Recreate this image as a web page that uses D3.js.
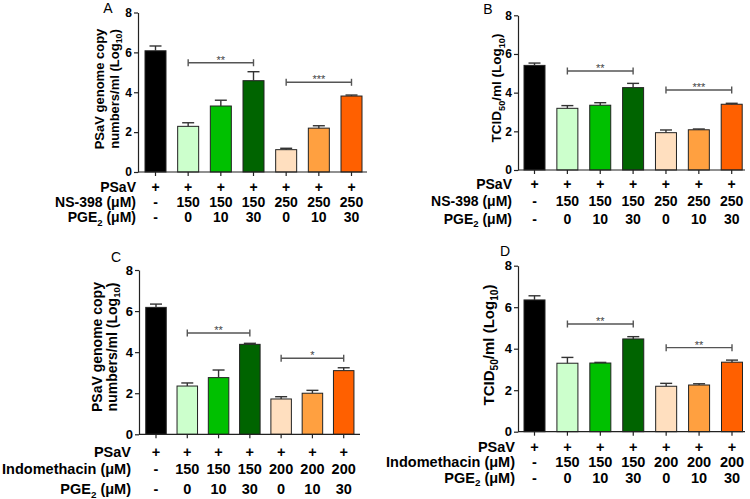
<!DOCTYPE html>
<html>
<head>
<meta charset="utf-8">
<script src="https://cdn.jsdelivr.net/npm/d3@7/dist/d3.min.js"></script>
<style>
  html, body { margin: 0; padding: 0; background: #fff; }
  svg { display: block; font-family: Arial, "Liberation Sans", Helvetica, sans-serif; }
</style>
</head>
<body>
<svg id="chart" width="750" height="499"></svg>
<script>
// ---------------- DATA ----------------
const psavRow   = ["+", "+", "+", "+", "+", "+", "+"];
const ns398Row  = ["-", "150", "150", "150", "250", "250", "250"];
const indoRow   = ["-", "150", "150", "150", "200", "200", "200"];
const pgeRow    = ["-", "0", "10", "30", "0", "10", "30"];
const barColors = ["#000000", "#ccffcc", "#00c000", "#006400", "#ffdfbf", "#ffa040", "#ff6000"];
const yTicks    = [0, 2, 4, 6, 8];

const aMeans  = [6.08, 2.29, 3.31, 4.58, 1.12, 2.20, 3.81];
const aErrors = [0.24, 0.18, 0.29, 0.45, 0.07, 0.12, 0.05];
const aSig    = [{ from: 1, to: 3, level: 5.48, label: "**" }, { from: 4, to: 6, level: 4.50, label: "***" }];

const bMeans  = [5.41, 3.19, 3.35, 4.26, 1.93, 2.08, 3.40];
const bErrors = [0.12, 0.14, 0.13, 0.22, 0.14, 0.04, 0.05];
const bSig    = [{ from: 1, to: 3, level: 5.12, label: "**" }, { from: 4, to: 6, level: 4.14, label: "***" }];

const cMeans  = [6.18, 2.35, 2.76, 4.38, 1.72, 2.00, 3.10];
const cErrors = [0.16, 0.15, 0.37, 0.05, 0.11, 0.14, 0.14];
const cSig    = [{ from: 1, to: 3, level: 4.93, label: "**" }, { from: 4, to: 6, level: 3.70, label: "*" }];

const dMeans  = [6.35, 3.30, 3.31, 4.47, 2.19, 2.25, 3.35];
const dErrors = [0.20, 0.28, 0.03, 0.11, 0.14, 0.06, 0.10];
const dSig    = [{ from: 1, to: 3, level: 5.19, label: "**" }, { from: 4, to: 6, level: 4.05, label: "**" }];

// ---------------- LAYOUT ----------------
const panels = [
  { letter: "A", lx: 108, ly: 13, means: aMeans, errors: aErrors, sig: aSig, drug: "NS-398", drugRow: ns398Row,
    axisX: 138, axisEnd: 367, y0: 172, yTop: 12.5, first: 155.5, last: 351.5, bw: 21,
    rowY: [186.5, 202, 217], labelRight: 136, fsTick: 12, fsLab: 14, fsTitle: 13, fsLetter: 14,
    title: [["PSaV genome copy"], ["numbers/ml (Log", "10", ")"]], titleX: [99, 114], titleY: 89 },
  { letter: "B", lx: 488, ly: 14, means: bMeans, errors: bErrors, sig: bSig, drug: "NS-398", drugRow: ns398Row,
    axisX: 518, axisEnd: 745, y0: 170, yTop: 15.3, first: 534.5, last: 731.7, bw: 21,
    rowY: [184, 201, 218.5], labelRight: 512, fsTick: 12, fsLab: 14, fsTitle: 13.5, fsLetter: 14,
    title: [["TCID", "50", "/ml (Log", "10", ")"]], titleX: [496.5], titleY: 88 },
  { letter: "C", lx: 116, ly: 262, means: cMeans, errors: cErrors, sig: cSig, drug: "Indomethacin", drugRow: indoRow,
    axisX: 139, axisEnd: 360, y0: 434.3, yTop: 270, first: 156, last: 343.7, bw: 20.5,
    rowY: [452, 469, 489], labelRight: 131, fsTick: 13, fsLab: 14.5, fsTitle: 14, fsLetter: 14,
    title: [["PSaV genome copy"], ["numbers/ml (Log", "10", ")"]], titleX: [97, 112], titleY: 347 },
  { letter: "D", lx: 505, ly: 256, means: dMeans, errors: dErrors, sig: dSig, drug: "Indomethacin", drugRow: indoRow,
    axisX: 518, axisEnd: 745, y0: 431.7, yTop: 265.7, first: 534.5, last: 732, bw: 21,
    rowY: [446.7, 462, 477.5], labelRight: 515, fsTick: 13, fsLab: 14.5, fsTitle: 15, fsLetter: 14,
    title: [["TCID", "50", "/ml (Log", "10", ")"]], titleX: [489], titleY: 345 }
];

const svg = d3.select("#chart");

function addRichText(sel, parts, fs) {
  // parts alternate: normal text, subscript, normal text, ...
  parts.forEach((p, i) => {
    const sub = i % 2 === 1;
    sel.append("tspan")
      .attr("font-size", sub ? fs * 0.68 : fs)
      .attr("dy", sub ? fs * 0.25 : (i > 0 ? -fs * 0.25 : null))
      .text(p);
  });
}

function drawPanel(cfg) {
  const g = svg.append("g");
  const n = cfg.means.length;
  const step = (cfg.last - cfg.first) / (n - 1);
  const pad = 1 - cfg.bw / step;
  const x = d3.scaleBand().domain(d3.range(n))
    .range([cfg.first - step / 2, cfg.last + step / 2])
    .paddingInner(pad).paddingOuter(pad / 2);
  const y = d3.scaleLinear().domain([0, 8]).range([cfg.y0, cfg.yTop]);
  const cx = i => x(i) + x.bandwidth() / 2;

  // bars
  g.selectAll("rect.bar").data(cfg.means).join("rect")
    .attr("class", "bar")
    .attr("x", (d, i) => x(i))
    .attr("y", d => y(d))
    .attr("width", x.bandwidth())
    .attr("height", d => cfg.y0 - y(d))
    .attr("fill", (d, i) => barColors[i])
    .attr("stroke", "#222")
    .attr("stroke-width", 1);

  // error bars (upper only)
  const eb = g.selectAll("g.err").data(cfg.means).join("g").attr("class", "err")
    .attr("stroke", "#333").attr("stroke-width", 1.4);
  eb.append("line")
    .attr("x1", (d, i) => cx(i)).attr("x2", (d, i) => cx(i))
    .attr("y1", d => y(d)).attr("y2", (d, i) => y(d + cfg.errors[i]));
  eb.append("line")
    .attr("x1", (d, i) => cx(i) - 6).attr("x2", (d, i) => cx(i) + 6)
    .attr("y1", (d, i) => y(d + cfg.errors[i])).attr("y2", (d, i) => y(d + cfg.errors[i]));

  // y axis
  const ya = g.append("g").attr("transform", `translate(${cfg.axisX},0)`)
    .call(d3.axisLeft(y).tickValues(yTicks).tickSize(4).tickSizeOuter(0).tickPadding(2).tickFormat(d3.format("d")));
  ya.select(".domain").attr("stroke", "#222").attr("stroke-width", 1.2);
  ya.selectAll(".tick line").attr("stroke", "#222").attr("stroke-width", 1.2);
  ya.selectAll(".tick text").attr("font-size", cfg.fsTick).attr("font-weight", "bold")
    .attr("font-family", "Arial, 'Liberation Sans', sans-serif").attr("fill", "#000");

  // x axis
  g.append("line").attr("x1", cfg.axisX).attr("x2", cfg.axisEnd)
    .attr("y1", cfg.y0).attr("y2", cfg.y0).attr("stroke", "#222").attr("stroke-width", 1.2);
  g.selectAll("line.xt").data(d3.range(n)).join("line").attr("class", "xt")
    .attr("x1", cx).attr("x2", cx).attr("y1", cfg.y0).attr("y2", cfg.y0 + 4)
    .attr("stroke", "#222").attr("stroke-width", 1.2);

  // significance brackets
  cfg.sig.forEach(s => {
    const sy = y(s.level);
    const bg = g.append("g").attr("stroke", "#555").attr("stroke-width", 1.4);
    bg.append("line").attr("x1", cx(s.from)).attr("x2", cx(s.to)).attr("y1", sy).attr("y2", sy);
    bg.append("line").attr("x1", cx(s.from)).attr("x2", cx(s.from)).attr("y1", sy - 3.5).attr("y2", sy + 3.5);
    bg.append("line").attr("x1", cx(s.to)).attr("x2", cx(s.to)).attr("y1", sy - 3.5).attr("y2", sy + 3.5);
    g.append("text").attr("x", (cx(s.from) + cx(s.to)) / 2).attr("y", sy + 1)
      .attr("text-anchor", "middle").attr("font-size", 11).attr("fill", "#444").text(s.label);
  });

  // condition rows
  const rows = [
    { parts: ["PSaV"], vals: psavRow },
    { parts: [cfg.drug + " (μM)"], vals: cfg.drugRow },
    { parts: ["PGE", "2", " (μM)"], vals: pgeRow }
  ];
  rows.forEach((r, ri) => {
    const ry = cfg.rowY[ri] + cfg.fsLab * 0.36;
    const t = g.append("text").attr("x", cfg.labelRight).attr("y", ry)
      .attr("text-anchor", "end").attr("font-weight", "bold").attr("font-size", cfg.fsLab);
    addRichText(t, r.parts, cfg.fsLab);
    g.selectAll(null).data(r.vals).join("text")
      .attr("x", (d, i) => cx(i)).attr("y", ry)
      .attr("text-anchor", "middle").attr("font-weight", "bold").attr("font-size", cfg.fsLab)
      .text(d => d);
  });

  // y title
  cfg.title.forEach((parts, li) => {
    const t = g.append("text")
      .attr("transform", `translate(${cfg.titleX[li]},${cfg.titleY}) rotate(-90)`)
      .attr("text-anchor", "middle").attr("dy", "0.35em")
      .attr("font-weight", "bold").attr("font-size", cfg.fsTitle);
    addRichText(t, parts, cfg.fsTitle);
  });

  // panel letter
  g.append("text").attr("x", cfg.lx).attr("y", cfg.ly).attr("text-anchor", "middle")
    .attr("font-size", cfg.fsLetter).text(cfg.letter);
}

panels.forEach(drawPanel);
</script>
</body>
</html>
